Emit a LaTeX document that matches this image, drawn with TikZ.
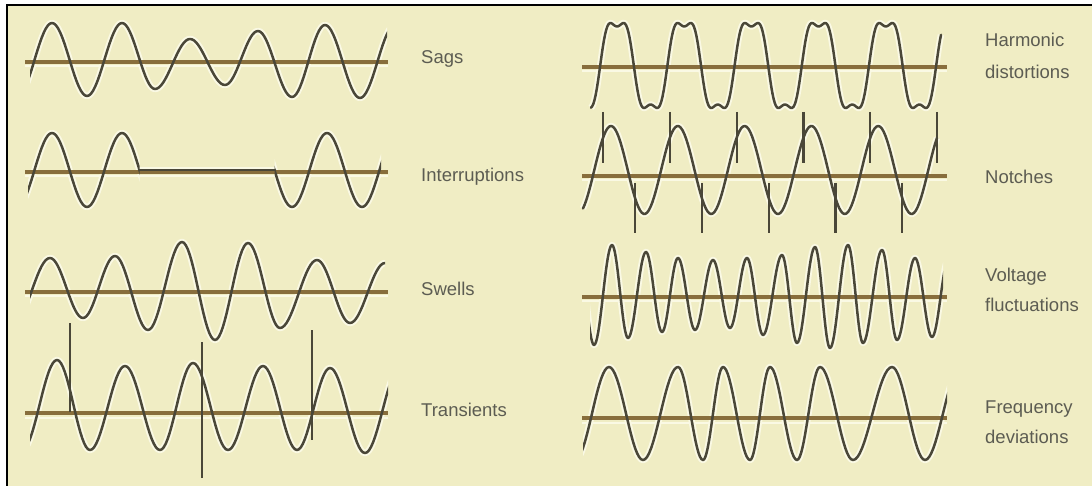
\documentclass[tikz,border=0pt]{standalone}
\usepackage{fontspec}
\setmainfont{Liberation Sans}
\definecolor{bg}{RGB}{240,237,196}
\definecolor{wavec}{RGB}{74,71,56}
\definecolor{glowc}{RGB}{250,249,228}
\definecolor{basec}{RGB}{136,110,60}
\definecolor{txtc}{RGB}{92,92,82}
\tikzset{
  wave/.style={draw=wavec, line width=2.5pt, line join=round, line cap=round},
  glow/.style={draw=glowc, line width=6.5pt, line join=round},
  baseln/.style={draw=basec, line width=3.5pt},
  baselo/.style={draw=glowc, line width=2pt},
  spike/.style={draw=wavec, line width=2.2pt},
  lbl/.style={anchor=base west, inner sep=0pt, text=txtc, font=\fontsize{18.5}{20}\selectfont},
}
% wave made of half-cosine arcs between successive extremes
\newcommand\extwave[6]{%
  \begin{scope}
    \clip (#2,-20) rectangle (#3,520);
    \draw[#1] (#4,#5) \foreach \xa/\ya [remember=\xa as \xp (initially #4), remember=\ya as \yp (initially #5)] in {#6} { -- plot[variable=\t, domain=0:1, samples=18] ({\xp+(\xa-\xp)*\t},{(\yp+\ya)/2+(\yp-\ya)/2*cos(180*\t)}) };
  \end{scope}}
\newcommand\allwaves[1]{%
  % Sags
  \extwave{#1}{30}{387}{17}{97}{52/23,87/96,122/23,155/89,190/39,225/85,258/31,292/97,325/25,360/98,395/25}
  % Interruptions
  \extwave{#1}{28}{139.5}{17}{207}{52/133,87/207,122/133,157/207}
  \draw[#1] (139,170) -- (275,170);
  \extwave{#1}{274.5}{381}{257}{133}{292/207,327/133,362/207,397/133}
  % Swells
  \extwave{#1}{30}{385}{14}{322}{50/258,83/318,115/256,148/330,182/242,215/340,248/243,280/328,317/260,350/323,385/263,418/323}
  % Transients
  \extwave{#1}{30}{388}{22}{450}{57/360,90/450,125/366,160/450,193/363,228/450,263/366,297/450,330/368,365/453,400/368}
  % Harmonic distortions
  \draw[#1] plot[variable=\t, domain=591:941, samples=300] (\t,{65.5-48.8*(sin(90+((\t-617)/67.2)*360)+0.2*sin(270+((\t-617)/67.2)*1080))});
  % Notches
  \draw[#1] plot[variable=\t, domain=583:937, samples=200] (\t,{170-44*sin(90+((\t-611)/66.8)*360)});
  % Voltage fluctuations
  \extwave{#1}{590}{943}{578}{250}{594/345,612/245,628/338,646/252,662/332,678/258,695/330,713/260,730/328,747/258,763/335,782/255,797/343,815/247,830/348,848/245,863/343,882/250,897/340,915/258,932/337,949/258}
  % Frequency deviations
  \extwave{#1}{583}{947}{575}{460}{609/367,643/460,678/367,703/460,723/367,750/460,770/367,797/460,820/367,853/460,892/367,925/460,961/367}
}
\begin{document}
\begin{tikzpicture}[x=1pt,y=-1pt]
\useasboundingbox (0,0) rectangle (1092,486);
\fill[white] (0,0) rectangle (1092,486);
\fill[bg] (7,5) rectangle (1092,486);
\draw[line width=2pt, black] (7,486) -- (7,5) -- (1092,5);
% glow halos
\allwaves{glow}
% baselines
\foreach \yy in {62,172,292,413} {
  \draw[baselo] (25,\yy+4.5) -- (388,\yy+4.5);
  \draw[baseln] (25,\yy) -- (388,\yy);
}
\foreach \yy in {67,176,297,418} {
  \draw[baselo] (582,\yy+4.5) -- (947,\yy+4.5);
  \draw[baseln] (582,\yy) -- (947,\yy);
}
% waves
\allwaves{wave}
% transient spikes
\draw[spike] (70,323) -- (70,412);
\draw[spike] (202,342) -- (202,478);
\draw[spike] (312,330) -- (312,440);
% notches
\foreach \k in {0,...,5} { \draw[spike] ({603+66.8*\k},112) -- ({603+66.8*\k},163); }
\foreach \k in {0,...,4} { \draw[spike] ({635+66.8*\k},183) -- ({635+66.8*\k},233); }
% labels
\node[lbl] (sags) at (421,64) {Sags};
\node[lbl] (interr) at (421,182) {Interruptions};
\node[lbl] (swells) at (421,296) {Swells};
\node[lbl] (trans) at (421,416) {Transients};
\node[lbl] (harm1) at (985,47) {Harmonic};
\node[lbl] (harm2) at (985,79) {distortions};
\node[lbl] (notch) at (985,184) {Notches};
\node[lbl] (volt1) at (985,282) {Voltage};
\node[lbl] (volt2) at (985,312) {fluctuations};
\node[lbl] (freq1) at (985,413) {Frequency};
\node[lbl] (freq2) at (985,443) {deviations};
\end{tikzpicture}
\end{document}
